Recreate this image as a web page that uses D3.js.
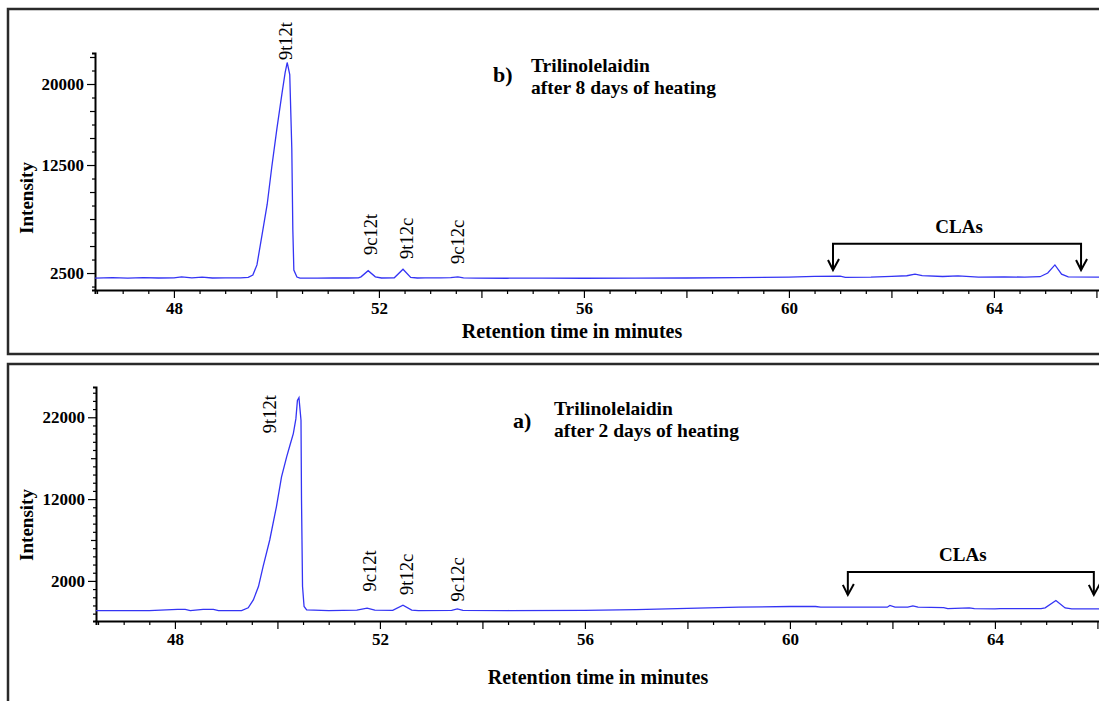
<!DOCTYPE html>
<html>
<head>
<meta charset="utf-8">
<script src="https://cdn.jsdelivr.net/npm/d3@7"></script>
<style>
  body { margin: 0; background: #fff; }
  svg { display: block; font-family: "Liberation Serif", "Times New Roman", serif; }
  .axis path, .axis line { stroke: #000; }
</style>
</head>
<body>
<svg id="chart" width="1099" height="701"></svg>
<script>
// ---- panel b) : 8 days of heating ----
var timesB = [46.46, 46.8, 47.1, 47.4, 47.7, 48.0, 48.15, 48.35, 48.55, 48.75, 49.0, 49.3, 49.45,
  49.54, 49.62, 49.72, 49.82, 49.91, 50.01, 50.11, 50.17, 50.21, 50.26, 50.30, 50.32, 50.34, 50.40, 50.46,
  50.8, 51.1, 51.4, 51.6, 51.65, 51.79, 51.93, 52.05, 52.3, 52.47, 52.62, 52.75, 52.9, 53.2, 53.4, 53.54, 53.65, 53.9,
  54.5, 55.2, 56, 57, 58, 59, 60, 60.5, 61.0, 61.1, 61.6, 62.0, 62.3, 62.46, 62.6, 63.0, 63.3, 63.7, 64.2, 64.6, 64.9,
  65.05, 65.19, 65.32, 65.45, 66.1];
var intensB = [2030, 2080, 2030, 2080, 2040, 2060, 2150, 2060, 2130, 2040, 2060, 2050, 2100,
  2310, 3250, 6060, 8870, 12340, 15900, 19180, 21060, 21990, 20870, 14030, 6530, 2780, 2130, 2030,
  2030, 2060, 2040, 2060, 2150, 2715, 2150, 2040, 2060, 2850, 2100, 2040, 2050, 2050, 2080, 2150, 2060, 2030,
  2020, 2030, 2020, 2030, 2040, 2080, 2130, 2200, 2210, 2100, 2120, 2200, 2250, 2400, 2260, 2180, 2230, 2120, 2150, 2120, 2160,
  2500, 3250, 2400, 2140, 2130];

// ---- panel a) : 2 days of heating ----
var timesA = [46.46, 47.5, 48.05, 48.2, 48.3, 48.55, 48.75, 48.85, 49.3, 49.43,
  49.53, 49.63, 49.72, 49.85, 49.98, 50.08, 50.18, 50.25, 50.31, 50.36, 50.39, 50.42, 50.46, 50.47, 50.49, 50.52, 50.57,
  51.0, 51.55, 51.75, 51.9, 52.25, 52.45, 52.62, 52.75, 53.4, 53.51, 53.62, 54.5, 56.0, 57.0, 58.0, 59.0, 60.0,
  60.5, 60.6, 61.9, 61.95, 62.05, 62.3, 62.4, 62.5, 63.0, 63.08, 63.5, 63.6, 64.0, 64.1, 64.9, 64.98, 65.19, 65.37, 65.5, 66.1];
var intensA = [-1620, -1620, -1480, -1480, -1620, -1480, -1480, -1620, -1620, -1290,
  -320, 1310, 3740, 7000, 11060, 14720, 17160, 18700, 20010, 21800, 24070, 24400, 21630, 11880, 1310, -1130, -1540,
  -1620, -1580, -1330, -1580, -1600, -960, -1560, -1620, -1600, -1410, -1600, -1620, -1600, -1500, -1350, -1200, -1130,
  -1130, -1210, -1210, -1000, -1210, -1210, -1050, -1210, -1260, -1380, -1300, -1380, -1420, -1380, -1380, -1300, -400, -1300, -1420, -1420];

var xTickLabels = [48, 52, 56, 60, 64];
var yTickLabelsB = [2500, 12500, 20000];
var yTickLabelsA = [2000, 12000, 22000];

var peakNames = ['9t12t', '9c12t', '9t12c', '9c12c'];
var peakTimesB = [50.18, 51.83, 52.54, 53.53];
var peakValsB = [22220, 4170, 3800, 3330];
var peakTimesA = [49.85, 51.80, 52.51, 53.51];
var peakValsA = [20050, 700, 290, -520];

var claTimesB = [60.86, 65.70];
var claTimesA = [61.13, 65.93];

var svg = d3.select('#chart');

function drawPanel(o) {
  var g = svg.append('g');

  g.append('rect')
    .attr('x', 8).attr('y', o.frameTop)
    .attr('width', 1200).attr('height', o.frameH)
    .attr('fill', 'none').attr('stroke', '#2a2a2a').attr('stroke-width', 2.5);

  var x = d3.scaleLinear().domain([46.46, 66.1]).range([o.left, o.left + 19.64 * 51.25]);
  var y = d3.scaleLinear().domain(o.yDomain).range([o.bottom, o.top]);

  // x axis
  var xAxis = d3.axisBottom(x)
    .tickValues(d3.range(46.5, 66.01, 0.5))
    .tickSizeOuter(0)
    .tickSize(4)
    .tickFormat(function (d) { return xTickLabels.indexOf(d) >= 0 ? d : ''; });
  var gx = g.append('g').attr('class', 'axis')
    .attr('transform', 'translate(0,' + o.bottom + ')')
    .call(xAxis);
  gx.select('.domain').attr('stroke-width', 2);
  gx.selectAll('.tick line').attr('stroke-width', 1.2)
    .attr('y2', function (d) { return d % 2 === 0 ? 8 : 4; });
  gx.selectAll('.tick text').attr('y', 12)
    .style('font-size', '17px').style('font-weight', 'bold')
    .style('font-family', '"Liberation Serif", serif').attr('fill', '#000');

  // y axis
  var yAxis = d3.axisLeft(y)
    .tickValues(o.yTicks)
    .tickSizeOuter(0)
    .tickSize(3)
    .tickFormat(function (d) { return o.yLabels.indexOf(d) >= 0 ? d : ''; });
  var gy = g.append('g').attr('class', 'axis')
    .attr('transform', 'translate(' + o.left + ',0)')
    .call(yAxis);
  gy.select('.domain').attr('stroke-width', 2);
  gy.selectAll('.tick line').attr('stroke-width', 1.2)
    .attr('x2', function (d) {
      if (o.yLabels.indexOf(d) >= 0) return -8;
      if (o.isMedium(d)) return -5;
      return -3;
    });
  gy.selectAll('.tick text').attr('x', -11)
    .style('font-size', '17px').style('font-weight', 'bold')
    .style('font-family', '"Liberation Serif", serif').attr('fill', '#000');

  // trace
  var pts = o.times.map(function (t, i) { return [t, o.vals[i]]; });
  g.append('path')
    .datum(pts)
    .attr('fill', 'none')
    .attr('stroke', '#3434f4')
    .attr('stroke-width', 1.3)
    .attr('d', d3.line().x(function (d) { return x(d[0]); }).y(function (d) { return y(d[1]); }));

  // peak labels
  g.selectAll('.peak')
    .data(peakNames)
    .enter().append('text')
    .attr('class', 'peak')
    .attr('transform', function (d, i) {
      return 'translate(' + x(o.peakTimes[i]) + ',' + y(o.peakVals[i]) + ') rotate(-90)';
    })
    .attr('dy', '0.35em')
    .style('font-size', '18.5px')
    .text(function (d) { return d; });

  // CLA bracket
  var bx0 = x(o.cla[0]), bx1 = x(o.cla[1]);
  var by = y(o.claBar), bt = y(o.claTip);
  var br = g.append('g').attr('stroke', '#000').attr('stroke-width', 2).attr('fill', 'none');
  br.append('path').attr('d', 'M' + bx0 + ',' + bt + 'V' + by + 'H' + bx1 + 'V' + bt);
  [bx0, bx1].forEach(function (bx) {
    br.append('path').attr('d', 'M' + (bx - 5) + ',' + (bt - 10) + 'L' + bx + ',' + bt + 'L' + (bx + 6) + ',' + (bt - 11));
  });
  g.append('text')
    .attr('x', (bx0 + bx1) / 2 + o.claDx).attr('y', by - 11)
    .attr('text-anchor', 'middle')
    .style('font-size', '19px').style('font-weight', 'bold')
    .text('CLAs');

  // axis titles
  g.append('text')
    .attr('transform', 'translate(' + 26 + ',' + o.yTitleY + ') rotate(-90)')
    .attr('text-anchor', 'middle').attr('dy', '0.35em')
    .style('font-size', '19px').style('font-weight', 'bold')
    .text('Intensity');
  g.append('text')
    .attr('x', o.xTitleX).attr('y', o.xTitleY)
    .attr('text-anchor', 'middle')
    .style('font-size', '20px').style('font-weight', 'bold')
    .text('Retention time in minutes');

  // panel title
  g.append('text')
    .attr('x', o.tagX).attr('y', o.tagY)
    .style('font-size', '22px').style('font-weight', 'bold')
    .text(o.tag);
  g.append('text')
    .attr('x', o.titleX).attr('y', o.titleY)
    .style('font-size', '19.5px').style('font-weight', 'bold')
    .text('Trilinolelaidin');
  g.append('text')
    .attr('x', o.titleX).attr('y', o.titleY + 22)
    .style('font-size', '19.5px').style('font-weight', 'bold')
    .text(o.subtitle);
}

drawPanel({
  frameTop: 9, frameH: 345,
  left: 95, top: 53, bottom: 290,
  yDomain: [930, 22870],
  yTicks: d3.range(1250, 22501, 1250),
  yLabels: yTickLabelsB,
  isMedium: function (d) { return d % 2500 === 0; },
  times: timesB, vals: intensB,
  peakTimes: peakTimesB, peakVals: peakValsB,
  cla: claTimesB, claBar: 5200, claTip: 2780, claDx: 2,
  yTitleY: 198, xTitleX: 572, xTitleY: 338,
  tag: 'b)', tagX: 493, tagY: 82,
  titleX: 531, titleY: 72,
  subtitle: 'after 8 days of heating'
});

drawPanel({
  frameTop: 364, frameH: 400,
  left: 96, top: 387, bottom: 621,
  yDomain: [-2900, 25700],
  yTicks: d3.range(-2000, 25001, 1000),
  yLabels: yTickLabelsA,
  isMedium: function (d) { return (d - 2000) % 5000 === 0; },
  times: timesA, vals: intensA,
  peakTimes: peakTimesA, peakVals: peakValsA,
  cla: claTimesA, claBar: 3100, claTip: 290, claDx: -8,
  yTitleY: 525, xTitleX: 598, xTitleY: 684,
  tag: 'a)', tagX: 513, tagY: 428,
  titleX: 554, titleY: 415,
  subtitle: 'after 2 days of heating'
});
</script>
</body>
</html>
